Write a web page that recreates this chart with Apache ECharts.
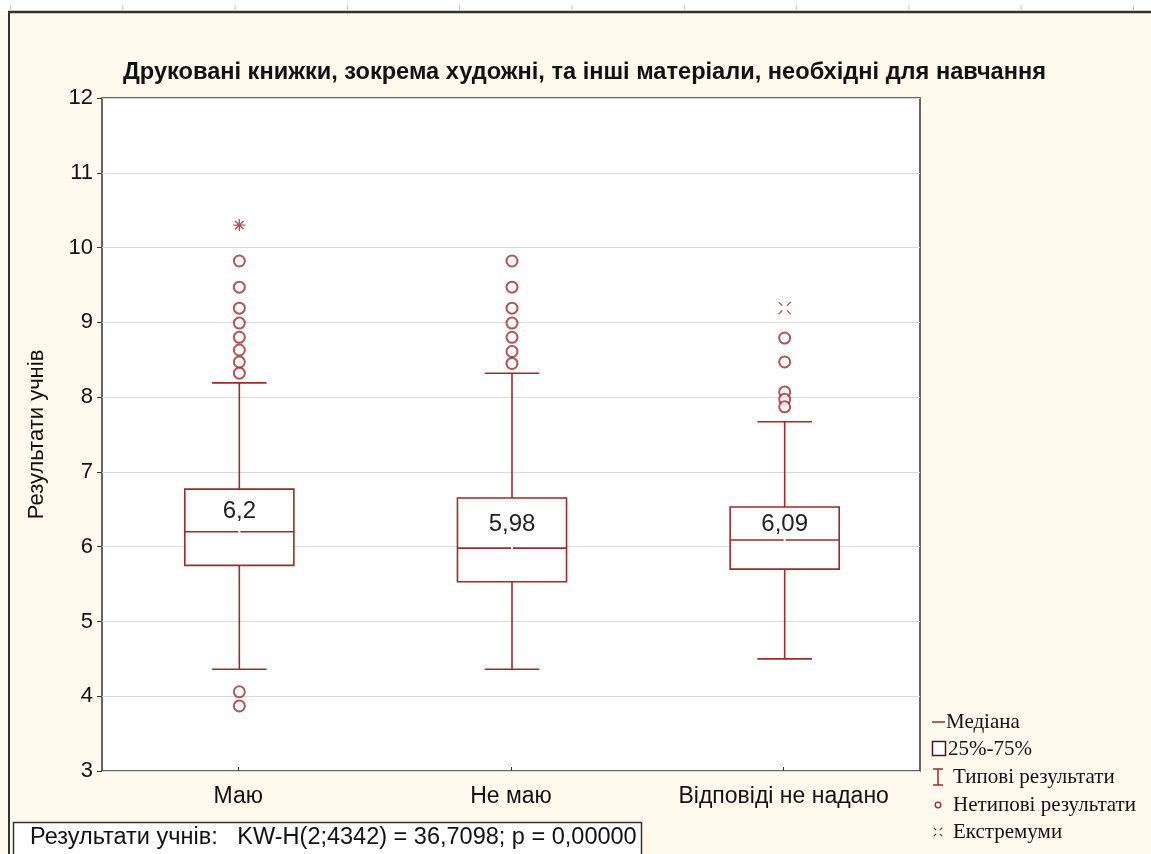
<!DOCTYPE html>
<html>
<head>
<meta charset="utf-8">
<script src="https://cdn.jsdelivr.net/npm/echarts@6/dist/echarts.min.js"></script>
<style>
    html, body { margin: 0; padding: 0; background: #FFF9EE; }
    #BoxChart { width: 1151px; height: 854px; }
</style>
</head>
<body>
<div id="BoxChart"></div>
<script>
// categories and values
const categories = ['Маю', 'Не маю', 'Відповіді не надано'];
const whiskerLow = [4.36, 4.36, 4.50];
const quartile1 = [5.75, 5.53, 5.70];
const medians = [6.2, 5.98, 6.09];
const quartile3 = [6.77, 6.65, 6.53];
const whiskerHigh = [8.19, 8.32, 7.67];
const medianLabels = ['6,2', '5,98', '6,09'];
const outliersMaiu = [9.82, 9.47, 9.19, 8.99, 8.80, 8.63, 8.47, 8.32, 4.06, 3.87];
const outliersNeMaiu = [9.82, 9.47, 9.19, 8.99, 8.80, 8.61, 8.45];
const outliersNoAnswer = [8.79, 8.47, 8.07, 7.97, 7.87];
const extremes = [[0, 10.30], [2, 9.19]];
const yTicks = [3, 12, 1];

const RED = '#9E2A2B';

const chartDom = document.getElementById('BoxChart');
const myChart = echarts.init(chartDom);
var option;

const boxData = categories.map((c, i) => [i, whiskerLow[i], quartile1[i], medians[i], quartile3[i], whiskerHigh[i]]);
const outlierData = []
    .concat(outliersMaiu.map(v => [0, v]))
    .concat(outliersNeMaiu.map(v => [1, v]))
    .concat(outliersNoAnswer.map(v => [2, v]));

const extremeSymbols = [
    'path://M5,0 L5,10 M0,5 L10,5 M1.5,1.5 L8.5,8.5 M8.5,1.5 L1.5,8.5',
    'path://M0,0 L3,3 M10,0 L7,3 M0,10 L3,7 M10,10 L7,7'
];

renderBox = (params, api) => {
    var idx = api.value(0);
    var low = api.coord([idx, api.value(1)]);
    var q1 = api.coord([idx, api.value(2)]);
    var med = api.coord([idx, api.value(3)]);
    var q3 = api.coord([idx, api.value(4)]);
    var high = api.coord([idx, api.value(5)]);
    var half = api.size([1, 0])[0] * 0.2;
    var cap = half / 2;
    var x = med[0] + 1;
    var stroke = { stroke: RED, lineWidth: 1.6, fill: null };
    return {
        type: 'group',
        children: [
            { type: 'line', shape: { x1: x, y1: low[1], x2: x, y2: q1[1] }, style: stroke },
            { type: 'line', shape: { x1: x, y1: q3[1], x2: x, y2: high[1] }, style: stroke },
            { type: 'line', shape: { x1: x - cap, y1: low[1], x2: x + cap, y2: low[1] }, style: stroke },
            { type: 'line', shape: { x1: x - cap, y1: high[1], x2: x + cap, y2: high[1] }, style: stroke },
            { type: 'rect', shape: { x: x - half, y: q3[1], width: half * 2, height: q1[1] - q3[1] },
              style: { stroke: RED, lineWidth: 1.6, fill: '#fff' } },
            { type: 'line', shape: { x1: x - half, y1: med[1], x2: x - 1, y2: med[1] }, style: stroke },
            { type: 'line', shape: { x1: x + 1, y1: med[1], x2: x + half, y2: med[1] }, style: stroke },
            { type: 'text', x: x, y: (med[1] + q3[1]) / 2 + 1,
              style: { text: medianLabels[params.dataIndex], fill: '#222', font: '24px "Liberation Sans", Arial',
                       align: 'center', verticalAlign: 'middle' } }
        ]
    };
};

const rulerTicks = [];
for (let k = 0; k < 11; k++) {
    rulerTicks.push({ type: 'line', shape: { x1: 10.5 + k * 112.3, y1: 5, x2: 10.5 + k * 112.3, y2: 11 },
                      style: { stroke: '#c8c8c8', lineWidth: 1 }, z: 11 });
}

const legendFont = '21px "Liberation Serif", "Times New Roman", serif';
const legendItems = [
    { text: 'Медіана', x: 946, y: 722 },
    { text: '25%-75%', x: 948, y: 749 },
    { text: 'Типові результати', x: 953, y: 777 },
    { text: 'Нетипові результати', x: 953, y: 805 },
    { text: 'Екстремуми', x: 953, y: 832 }
];

// small x of dots for the extremes legend mark
const xMark = [[934, 828, 936, 830], [942, 828, 940, 830], [934, 836, 936, 834], [942, 836, 940, 834]].map(s => ({
    type: 'line', shape: { x1: s[0], y1: s[1], x2: s[2], y2: s[3] }, style: { stroke: RED, lineWidth: 1.3 }, z: 10
}));

option = {
    backgroundColor: '#FFF9EE',
    animation: false,
    title: {
        text: 'Друковані книжки, зокрема художні, та інші матеріали, необхідні для навчання',
        left: 118,
        top: 55,
        textStyle: { fontFamily: '"Liberation Sans", Arial', fontSize: 23.6, fontWeight: 'bold', color: '#111' }
    },
    grid: {
        left: 102, right: 231, top: 98, bottom: 83,
        show: true, backgroundColor: '#fff', borderColor: '#333', borderWidth: 1.5
    },
    xAxis: {
        type: 'category',
        data: categories,
        axisLine: { show: false },
        axisTick: { show: true, inside: true, length: 4, alignWithLabel: true, lineStyle: { color: '#333' } },
        axisLabel: { interval: 0, hideOverlap: false, margin: 14, fontFamily: '"Liberation Sans", Arial', fontSize: 23, color: '#111' },
        splitLine: { show: false }
    },
    yAxis: {
        type: 'value',
        min: yTicks[0],
        max: yTicks[1],
        interval: yTicks[2],
        name: 'Результати учнів',
        nameLocation: 'middle',
        nameGap: 54,
        nameTextStyle: { fontFamily: '"Liberation Sans", Arial', fontSize: 22, color: '#111' },
        axisLine: { show: false },
        axisTick: { show: true, length: 5, lineStyle: { color: '#333' } },
        axisLabel: { margin: 9, fontFamily: '"Liberation Sans", Arial', fontSize: 22, color: '#111' },
        splitLine: { show: true, lineStyle: { color: '#d9d9d9', width: 1 } }
    },
    series: [
        {
            name: '25%-75%',
            type: 'custom',
            renderItem: renderBox,
            data: boxData,
            encode: { x: 0, y: [1, 2, 3, 4, 5] },
            z: 3
        },
        {
            name: 'Нетипові результати',
            type: 'scatter',
            data: outlierData,
            symbol: 'emptyCircle',
            symbolSize: 11,
            symbolOffset: [1, 0],
            itemStyle: { color: RED, borderColor: RED, borderWidth: 1.5 },
            z: 4
        },
        {
            name: 'Екстремуми',
            type: 'scatter',
            data: extremes.map((d, i) => ({ value: d, symbol: extremeSymbols[i] })),
            symbolSize: 12,
            symbolOffset: [1, 0],
            itemStyle: { color: 'none', borderColor: RED, borderWidth: 1.4 },
            z: 4
        }
    ],
    graphic: [
        { type: 'rect', shape: { x: 0, y: 0, width: 1151, height: 11 }, style: { fill: '#fff' }, z: 10 },
        { type: 'line', shape: { x1: 8, y1: 12, x2: 1151, y2: 12 }, style: { stroke: '#333', lineWidth: 2.5 }, z: 11 },
        { type: 'line', shape: { x1: 9, y1: 12, x2: 9, y2: 854 }, style: { stroke: '#333', lineWidth: 2 }, z: 11 },
        // stats box at the bottom
        { type: 'rect', shape: { x: 13.5, y: 822.5, width: 628, height: 40 },
          style: { fill: '#fff', stroke: '#333', lineWidth: 1.5 }, z: 10 },
        { type: 'text', x: 30, y: 838,
          style: { text: 'Результати учнів:   KW-H(2;4342) = 36,7098; p = 0,00000', fill: '#111',
                   font: '23.5px "Liberation Sans", Arial', verticalAlign: 'middle' }, z: 11 },
        // legend
        { type: 'line', shape: { x1: 932, y1: 722, x2: 945, y2: 722 }, style: { stroke: RED, lineWidth: 1.5 }, z: 10 },
        { type: 'rect', shape: { x: 932.5, y: 741.5, width: 13, height: 14 },
          style: { fill: '#fff', stroke: '#4a1a1a', lineWidth: 1.5 }, z: 10 },
        { type: 'line', shape: { x1: 938, y1: 769, x2: 938, y2: 785 }, style: { stroke: RED, lineWidth: 1.5 }, z: 10 },
        { type: 'line', shape: { x1: 933, y1: 769, x2: 943, y2: 769 }, style: { stroke: RED, lineWidth: 1.5 }, z: 10 },
        { type: 'line', shape: { x1: 933, y1: 785, x2: 943, y2: 785 }, style: { stroke: RED, lineWidth: 1.5 }, z: 10 },
        { type: 'circle', shape: { cx: 938, cy: 805, r: 2.8 }, style: { fill: 'none', stroke: RED, lineWidth: 1.3 }, z: 10 }
    ].concat(rulerTicks).concat(xMark).concat(legendItems.map(it => ({
        type: 'text', x: it.x, y: it.y,
        style: { text: it.text, fill: '#111', font: legendFont, verticalAlign: 'middle' }, z: 10
    })))
};

option && myChart.setOption(option);
</script>
</body>
</html>
